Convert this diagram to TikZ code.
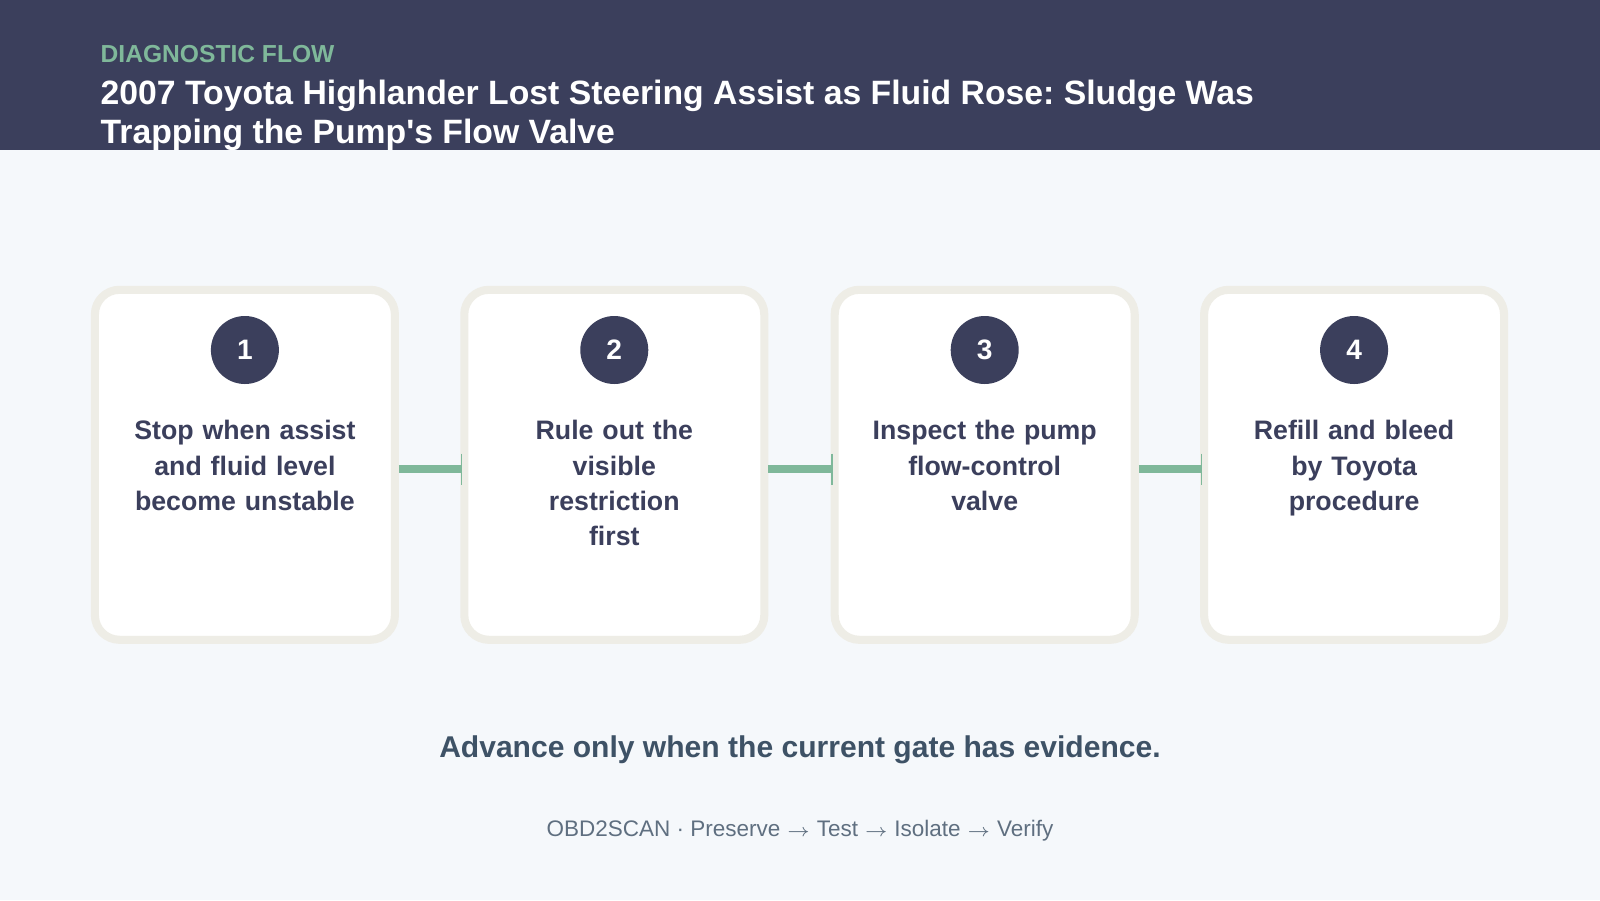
\documentclass[tikz,border=0pt]{standalone}
\usepackage{fontspec}
\setmainfont{Liberation Sans}
\usetikzlibrary{arrows.meta}
\frenchspacing
\definecolor{navy}{HTML}{3B3F5C}
\definecolor{sage}{HTML}{7FB89A}
\definecolor{paper}{HTML}{F5F8FB}
\definecolor{rim}{HTML}{EEEDE6}
\definecolor{slate}{HTML}{3E5266}
\definecolor{mist}{HTML}{5F6F80}
\tikzset{
  card/.style={draw=rim, line width=2.3pt, fill=white, rounded corners=7pt},
  badge/.style={circle, fill=navy, minimum size=0.68cm, inner sep=0pt, text=white, font=\fontsize{8}{9}\selectfont\bfseries},
  stage/.style={text=navy, align=center, text width=2.6cm, font=\fontsize{7.6}{10}\selectfont\bfseries},
  link/.style={draw=sage, line width=2.3pt, -{Bar[width=9pt,line width=0.4pt]}},
}
\begin{document}
\begin{tikzpicture}[x=0.10204mm,y=-0.10204mm]
\useasboundingbox (0,0) rectangle (1568,882);
\fill[paper] (0,0) rectangle (1568,882);
\fill[navy] (0,0) rectangle (1568,147);
\node[anchor=west, inner sep=0pt, text=sage, font=\fontsize{7}{8}\selectfont\bfseries] (kicker) at (98,53) {DIAGNOSTIC FLOW};
\node[anchor=north west, inner sep=0pt, text=white, align=left, font=\fontsize{9.6}{10.9}\selectfont\bfseries] (title) at (98,78)
  {2007 Toyota Highlander Lost Steering Assist as Fluid Rose: Sludge Was\\Trapping the Pump\textquotesingle s Flow Valve};
% cards
\foreach \i/\x/\txt in {1/240/{Stop when assist\\and fluid level\\become unstable},
                        2/602/{Rule out the\\visible\\restriction\\first},
                        3/965/{Inspect the pump\\flow-control\\valve},
                        4/1327/{Refill and bleed\\by Toyota\\procedure}} {
  \draw[card] (\x-147,284) rectangle (\x+147,627);
  \node[badge] (b\i) at (\x,343) {\i};
  \node[stage, anchor=north] (s\i) at (\x,400) {\txt};
  \coordinate (l\i) at (\x-149,460);
  \coordinate (r\i) at (\x+151,460);
}
\draw[link] (r1) -- (l2);
\draw[link] (r2) -- (l3);
\draw[link] (r3) -- (l4);
\node[text=slate, font=\fontsize{8.55}{9}\selectfont\bfseries] (gate) at (784,735) {Advance only when the current gate has evidence.};
\node[text=mist, font=\fontsize{6.4}{8}\selectfont] (foot) at (784,814) {OBD2SCAN · Preserve $\scriptstyle\rightarrow$ Test $\scriptstyle\rightarrow$ Isolate $\scriptstyle\rightarrow$ Verify};
\end{tikzpicture}
\end{document}
